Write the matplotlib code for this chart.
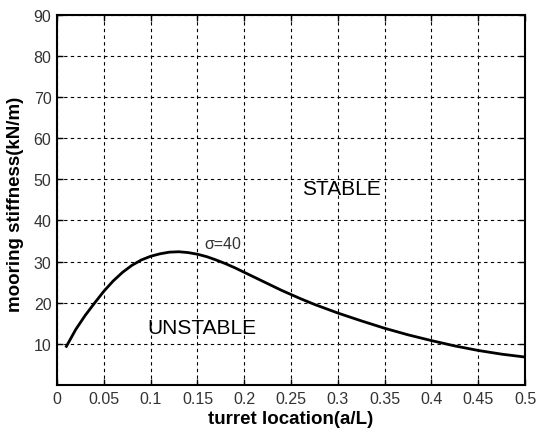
import matplotlib.pyplot as plt

plt.rcParams['font.family'] = ['Liberation Sans', 'DejaVu Sans']

# values
a_over_L = [0.01, 0.02, 0.03, 0.04, 0.05, 0.06, 0.07, 0.08, 0.09, 0.10,
            0.11, 0.12, 0.13, 0.14, 0.15, 0.16, 0.17, 0.18, 0.19, 0.20,
            0.21, 0.22, 0.23, 0.24, 0.25, 0.26, 0.275,
            0.30, 0.325, 0.35, 0.375, 0.40, 0.425, 0.45, 0.475, 0.50]
stiffness = [9.4, 13.5, 16.9, 19.9, 22.8, 25.3, 27.4, 29.1, 30.4, 31.3,
             31.9, 32.3, 32.4, 32.2, 31.8, 31.2, 30.4, 29.5, 28.5, 27.4,
             26.3, 25.2, 24.1, 23.0, 22.0, 21.0, 19.6,
             17.5, 15.6, 13.8, 12.2, 10.8, 9.5, 8.4, 7.5, 6.8]

xticks = [0, 0.05, 0.1, 0.15, 0.2, 0.25, 0.3, 0.35, 0.4, 0.45, 0.5]
xticklabels = ["0", "0.05", "0.1", "0.15", "0.2", "0.25", "0.3", "0.35", "0.4", "0.45", "0.5"]
yticks = [10, 20, 30, 40, 50, 60, 70, 80, 90]

fig = plt.figure(figsize=(5.38, 4.35), dpi=100)
ax = fig.add_axes([0.106, 0.1126, 0.87, 0.851])

ax.plot(a_over_L, stiffness, color="black", linewidth=2)

ax.set_xlim(0, 0.5)
ax.set_ylim(0, 90)
ax.set_xticks(xticks)
ax.set_xticklabels(xticklabels)
ax.set_yticks(yticks)
ax.grid(True, color="black", linestyle=(0, (3, 3)), linewidth=0.8)
ax.tick_params(direction="in", top=True, right=True, length=4, width=1,
               labelsize=11.5, labelcolor="#333333", pad=4)
for s in ax.spines.values():
    s.set_linewidth(1.5)

ax.set_xlabel("turret location(a/L)", fontsize=13.5, fontweight="bold", labelpad=3)
ax.set_ylabel("mooring stiffness(kN/m)", fontsize=13.5, fontweight="bold")
ax.yaxis.set_label_coords(-0.07, 0.49)

ax.text(0.304, 47.8, "STABLE", fontsize=15, ha="center", va="center")
ax.text(0.155, 14.0, "UNSTABLE", fontsize=15, ha="center", va="center")
ax.text(0.157, 34.4, "σ=40", fontsize=11.5, ha="left", va="center", color="#333333")

fig.savefig("out.png", dpi=100)
